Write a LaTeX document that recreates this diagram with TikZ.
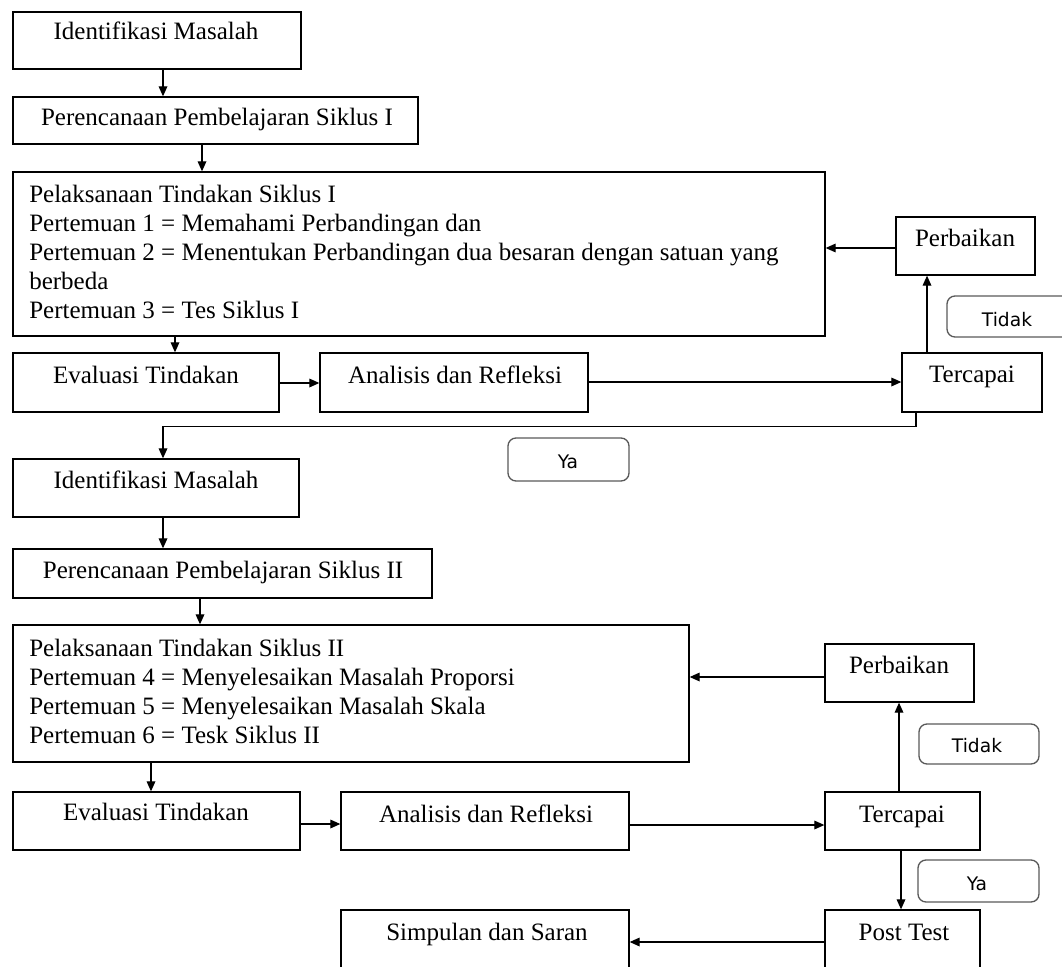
\documentclass[tikz,border=0pt]{standalone}
\usepackage{fontspec}
\setmainfont{Liberation Serif}
\newfontfamily\lblfont{DejaVu Sans}
\usetikzlibrary{arrows.meta,fit}
\begin{document}
\begin{tikzpicture}[x=0.75pt,y=-0.75pt,
  box/.style={draw, line width=1pt, inner sep=0pt},
  tag/.style={draw=black!65, line width=1pt, rounded corners=6pt, inner sep=0pt},
  txt/.style={inner sep=0pt, font=\fontsize{18.75pt}{21.75pt}\selectfont},
  lbl/.style={inner sep=0pt, font=\lblfont\fontsize{14pt}{16pt}\selectfont},
  arr/.style={line width=0.9pt, -{Triangle[length=7.5pt,width=6.5pt]}}]
\useasboundingbox (0,0) rectangle (1062,966);
\clip (0,0) rectangle (1062,966);
% helper coordinates
\coordinate (v163) at (163,0);
\coordinate (v202) at (202,0);
\coordinate (v175) at (175,0);
\coordinate (v927) at (927,0);
\coordinate (v916) at (916,0);
\coordinate (v200) at (200,0);
\coordinate (v151) at (151,0);
\coordinate (v899) at (899,0);
\coordinate (v901) at (901,0);
\coordinate (h248) at (0,248);
\coordinate (h383) at (0,383);
\coordinate (h382) at (0,382);
\coordinate (h677) at (0,677);
\coordinate (h824) at (0,824);
\coordinate (h825) at (0,825);
\coordinate (h942) at (0,942);
% cycle I boxes
\node[box, fit={(13,12) (301,69)}] (a) {};
\node[box, fit={(13,97) (418,144)}] (b) {};
\node[box, fit={(13,172) (825,336)}] (c) {};
\node[box, fit={(896,217) (1035,275)}] (p1) {};
\node[tag, fit={(947,296) (1080,337)}] (tg1) {};
\node[box, fit={(902,353) (1042,412)}] (t1) {};
\node[box, fit={(13,353) (279,412)}] (e1) {};
\node[box, fit={(320,353) (588,412)}] (an1) {};
\node[tag, fit={(508,438) (629,481)}] (ya1) {};
% cycle II boxes
\node[box, fit={(13,459) (299,517)}] (i2) {};
\node[box, fit={(13,549) (432,598)}] (b2) {};
\node[box, fit={(13,625) (689,762)}] (c2) {};
\node[box, fit={(825,644) (974,702)}] (p2) {};
\node[tag, fit={(919,724) (1039,764)}] (tg2) {};
\node[box, fit={(825,792) (980,850)}] (t2) {};
\node[box, fit={(13,792) (300,850)}] (e2) {};
\node[box, fit={(341,792) (629,850)}] (an2) {};
\node[tag, fit={(918,860) (1039,902)}] (ya2) {};
\node[box, fit={(825,910) (980,990)}] (pt) {};
\node[box, fit={(341,910) (629,990)}] (sp) {};
% texts
\node[txt, anchor=base] (ta) at (156,40) {Identifikasi Masalah};
\node[txt, anchor=base] (tb) at (217,126) {Perencanaan Pembelajaran Siklus I};
\node[txt, align=left, anchor=north west] (tc) at (29,185) {Pelaksanaan Tindakan Siklus I\\
Pertemuan 1 = Memahami Perbandingan dan\\
Pertemuan 2 = Menentukan Perbandingan dua besaran dengan satuan yang\\
berbeda\\
Pertemuan 3 = Tes Siklus I};
\node[txt, anchor=base] (tp1) at (965,246) {Perbaikan};
\node[lbl, anchor=base] (ttg1) at (1007,326) {Tidak};
\node[txt, anchor=base] (tt1) at (972,382) {Tercapai};
\node[txt, anchor=base] (te1) at (146,383) {Evaluasi Tindakan};
\node[txt, anchor=base] (tan1) at (455,383) {Analisis dan Refleksi};
\node[lbl, anchor=base] (tya1) at (568,468) {Ya};
\node[txt, anchor=base] (ti2) at (156,488) {Identifikasi Masalah};
\node[txt, anchor=base] (tb2) at (223,578) {Perencanaan Pembelajaran Siklus II};
\node[txt, align=left, anchor=north west] (tc2) at (29,639) {Pelaksanaan Tindakan Siklus II\\
Pertemuan 4 = Menyelesaikan Masalah Proporsi\\
Pertemuan 5 = Menyelesaikan Masalah Skala\\
Pertemuan 6 = Tesk Siklus II};
\node[txt, anchor=base] (tp2) at (899,673) {Perbaikan};
\node[lbl, anchor=base] (ttg2) at (977,752) {Tidak};
\node[txt, anchor=base] (tt2) at (902,822) {Tercapai};
\node[txt, anchor=base] (te2) at (156,820) {Evaluasi Tindakan};
\node[txt, anchor=base] (tan2) at (486,822) {Analisis dan Refleksi};
\node[lbl, anchor=base] (tya2) at (977,890) {Ya};
\node[txt, anchor=base] (tpt) at (904,940) {Post Test};
\node[txt, anchor=base] (tsp) at (487,940) {Simpulan dan Saran};
% connectors cycle I
\draw[arr] (a.south -| v163) -- (b.north -| v163);
\draw[arr] (b.south -| v202) -- (c.north -| v202);
\draw[arr] (p1.west |- h248) -- (c.east |- h248);
\draw[arr] (c.south -| v175) -- (e1.north -| v175);
\draw[arr] (e1.east |- h383) -- (an1.west |- h383);
\draw[arr] (an1.east |- h382) -- (t1.west |- h382);
\draw[arr] (t1.north -| v927) -- (p1.south -| v927);
\draw[arr] (t1.south -| v916) -- ++(0,14) -| (i2.north -| v163);
% connectors cycle II
\draw[arr] (i2.south -| v163) -- (b2.north -| v163);
\draw[arr] (b2.south -| v200) -- (c2.north -| v200);
\draw[arr] (p2.west |- h677) -- (c2.east |- h677);
\draw[arr] (c2.south -| v151) -- (e2.north -| v151);
\draw[arr] (e2.east |- h824) -- (an2.west |- h824);
\draw[arr] (an2.east |- h825) -- (t2.west |- h825);
\draw[arr] (t2.north -| v899) -- (p2.south -| v899);
\draw[arr] (t2.south -| v901) -- (pt.north -| v901);
\draw[arr] (pt.west |- h942) -- (sp.east |- h942);
\end{tikzpicture}
\end{document}
